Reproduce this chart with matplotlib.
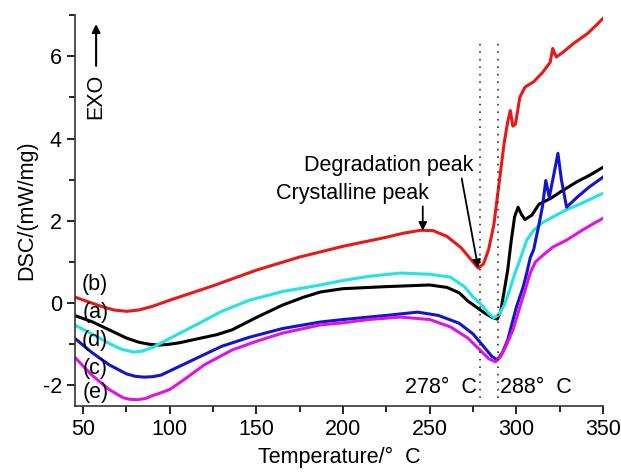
import matplotlib.pyplot as plt
from matplotlib.ticker import MultipleLocator

plt.rcParams.update({
    'font.family': ['Liberation Sans', 'DejaVu Sans'],
    'font.size': 15.5,
    'axes.unicode_minus': False,
})

# (b) red
x_b = [45, 55, 62, 68, 75, 82, 90, 100, 125, 150, 175, 200, 225, 235, 245, 252, 260, 268, 274, 278,
       281, 284, 287, 290, 293, 295, 296.5, 298, 299.5, 302, 305, 310, 315, 319.5, 321, 323, 327,
       333, 341, 346, 350]
y_b = [0.15, 0.0, -0.1, -0.17, -0.2, -0.17, -0.08, 0.07, 0.42, 0.8, 1.12, 1.38, 1.6, 1.7, 1.77, 1.76,
       1.62, 1.35, 1.05, 0.85, 0.95, 1.3, 1.9, 2.9, 3.9, 4.4, 4.68, 4.3, 4.35, 5.0, 5.25, 5.38, 5.6,
       5.85, 6.19, 5.98, 6.1, 6.31, 6.55, 6.75, 6.92]

# (a) black
x_a = [45, 55, 65, 75, 82, 88, 93, 98, 105, 117, 127, 136, 150, 165, 177, 187, 200, 225, 250, 260,
       267, 272, 277, 282, 286, 289, 291, 293, 295, 297, 299, 301, 303, 305, 309, 313, 320, 325, 335,
       342, 350]
y_a = [-0.3, -0.45, -0.65, -0.85, -0.95, -1.0, -1.02, -1.01, -0.97, -0.86, -0.77, -0.65, -0.35,
       -0.05, 0.14, 0.27, 0.35, 0.4, 0.44, 0.38, 0.25, 0.05, -0.1, -0.25, -0.35, -0.39, -0.2, 0.3,
       0.8, 1.5, 2.1, 2.33, 2.15, 2.03, 2.14, 2.4, 2.55, 2.69, 2.95, 3.1, 3.3]

# (d) cyan
x_d = [45, 55, 65, 72, 79, 84, 90, 95, 105, 117, 130, 146, 165, 187, 200, 215, 233, 250, 262, 270,
       275, 280, 284, 287, 290, 293, 296, 299, 302, 306, 310, 315, 321, 328, 338, 350]
y_d = [-0.53, -0.75, -0.98, -1.12, -1.19, -1.17, -1.08, -0.97, -0.75, -0.49, -0.2, 0.07, 0.28, 0.44,
       0.55, 0.65, 0.73, 0.7, 0.63, 0.4, 0.15, -0.05, -0.25, -0.36, -0.28, -0.05, 0.3, 0.7, 1.04,
       1.53, 1.77, 1.95, 2.09, 2.25, 2.43, 2.67]

# (c) blue
x_c = [45, 55, 65, 75, 80, 85, 90, 95, 105, 117, 130, 146, 165, 187, 200, 225, 243, 255, 267, 275,
       281, 286, 289, 292, 295, 300, 304, 306, 308, 310, 313, 315, 317, 319, 321.5, 324, 326, 329,
       335, 342, 350]
y_c = [-0.85, -1.2, -1.5, -1.72, -1.78, -1.8, -1.79, -1.75, -1.55, -1.31, -1.05, -0.83, -0.62, -0.46,
       -0.4, -0.3, -0.22, -0.3, -0.49, -0.75, -1.05, -1.3, -1.38, -1.2, -0.9, -0.1, 0.4, 0.73, 1.1,
       1.3, 1.9, 2.33, 2.98, 2.57, 3.1, 3.64, 3.0, 2.33, 2.57, 2.82, 3.06]

# (e) magenta
x_e = [45, 55, 65, 73, 77, 81, 86, 90, 95, 100, 108, 120, 136, 150, 165, 187, 200, 215, 233, 250,
       262, 272, 279, 284, 288, 291, 294, 298, 302, 305, 308, 311, 315, 321, 329, 338, 344, 350]
y_e = [-1.31, -1.75, -2.1, -2.3, -2.34, -2.35, -2.32, -2.25, -2.18, -2.1, -1.87, -1.5, -1.14, -0.93,
       -0.73, -0.53, -0.48, -0.4, -0.34, -0.4, -0.58, -0.85, -1.14, -1.35, -1.43, -1.3, -1.05, -0.66,
       -0.1, 0.3, 0.73, 1.0, 1.15, 1.36, 1.53, 1.77, 1.92, 2.06]

fig = plt.figure(figsize=(6.21, 4.72), dpi=100)
ax = fig.add_axes([0.121, 0.140, 0.850, 0.828])

lw = 2.2
ax.plot(x_b, y_b, color='#e81818', lw=lw)
ax.plot(x_a, y_a, color='black', lw=lw)
ax.plot(x_d, y_d, color='#22e4e4', lw=lw)
ax.plot(x_c, y_c, color='#1414cc', lw=lw)
ax.plot(x_e, y_e, color='#e014e0', lw=lw)

# reference temperatures
for xv in (279, 289.5):
    ax.plot([xv, xv], [-2.3, 6.45], color='#333333', lw=1.2, ls=(0, (1, 3.5)))

ax.text(277, -2.05, '278°  C', ha='right', va='center')
ax.text(290.5, -2.05, '288°  C', ha='left', va='center')

# curve labels
labels = ['(b)', '(a)', '(d)', '(c)', '(e)']
label_y = [0.44, -0.22, -0.9, -1.58, -2.18]
for lab, yv in zip(labels, label_y):
    ax.text(57, yv, lab, ha='center', va='center')

# EXO arrow
ax.annotate('', xy=(57.5, 6.85), xytext=(57.5, 5.7),
            arrowprops=dict(arrowstyle='-|>', color='black', lw=1.5, mutation_scale=12))
ax.text(57.5, 5.02, 'EXO', rotation=90, ha='center', va='center')

# peak annotations
ax.annotate('Degradation peak', xy=(278, 0.85), xytext=(275, 3.35), ha='right', va='center',
            arrowprops=dict(arrowstyle='-|>', color='black', lw=1.3, mutation_scale=12,
                            shrinkA=0, shrinkB=0, relpos=(0.93, 0.0)))
ax.text(205.5, 2.67, 'Crystalline peak', ha='center', va='center')
ax.annotate('', xy=(246, 1.76), xytext=(246, 2.35),
            arrowprops=dict(arrowstyle='-|>', color='black', lw=1.3, mutation_scale=12,
                            shrinkA=0, shrinkB=0))

ax.set_xlim(45.4, 350)
ax.set_ylim(-2.5, 7)
ax.xaxis.set_major_locator(MultipleLocator(50))
ax.xaxis.set_minor_locator(MultipleLocator(25))
ax.yaxis.set_major_locator(MultipleLocator(2))
ax.yaxis.set_minor_locator(MultipleLocator(1))
ax.tick_params(which='major', direction='out', length=6, width=1.2)
ax.tick_params(which='minor', direction='out', length=4, width=1.2)
ax.spines['top'].set_visible(False)
ax.spines['right'].set_visible(False)
for s in ('left', 'bottom'):
    ax.spines[s].set_linewidth(1.2)
    ax.spines[s].set_color('#333333')

ax.set_xlabel('Temperature/°  C', labelpad=5)
ax.set_ylabel('DSC/(mW/mg)', labelpad=4)

fig.savefig('out.png', dpi=100)
